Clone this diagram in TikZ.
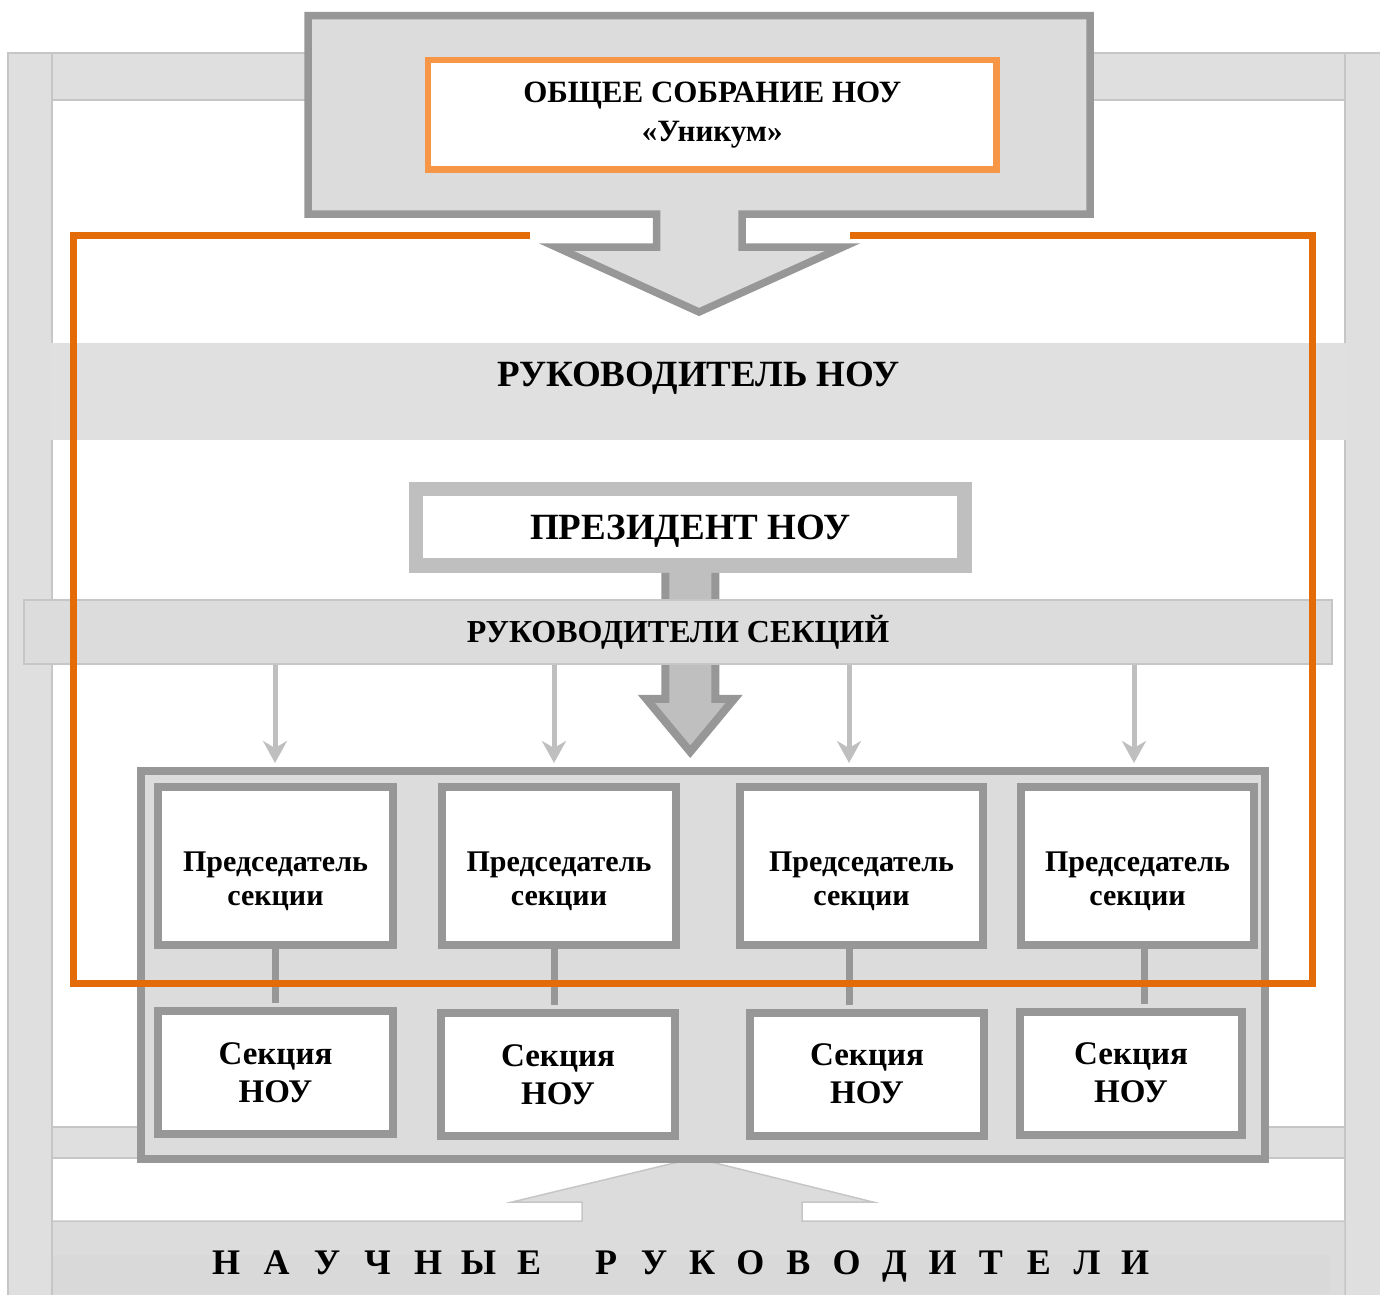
\documentclass[tikz,border=0pt]{standalone}
\usepackage{fontspec}
\setmainfont{Liberation Serif}
\usetikzlibrary{arrows.meta}

\definecolor{barfill}{HTML}{DFDFDF}
\definecolor{barline}{HTML}{C6C6C6}
\definecolor{bandfill}{HTML}{E0E0E0}
\definecolor{boxfill}{HTML}{DCDCDC}
\definecolor{boxline}{HTML}{979797}
\definecolor{softgray}{HTML}{BFBFBF}
\definecolor{orangelt}{HTML}{F79646}
\definecolor{orangedk}{HTML}{E36C09}
\definecolor{shadefill}{HTML}{D9D9D9}

\begin{document}
\begin{tikzpicture}[x=1pt,y=-1pt,
    framebar/.style={fill=barfill,draw=barline,line width=1.5pt},
    headtext/.style={font=\bfseries\fontsize{37}{44}\selectfont,text height=24.5pt,text depth=0pt},
    chairbox/.style={draw=boxline,line width=8pt,fill=white,minimum height=158pt},
    chairtext/.style={align=center,font=\bfseries\fontsize{30}{34}\selectfont},
    secbox/.style={draw=boxline,line width=8pt,fill=white,minimum height=123pt,align=center,font=\bfseries\fontsize{33}{38}\selectfont},
    link/.style={boxline,line width=7pt,shorten >=4pt},
    feed/.style={softgray,line width=5pt,-{Stealth[length=22pt,width=24pt,inset=7pt]},shorten >=4pt},
    capletter/.style={anchor=base,inner sep=0pt,font=\bfseries\fontsize{36}{40}\selectfont}]
    \useasboundingbox (0,0) rectangle (1380,1294);

    % frame
    \draw[framebar] (8,53) rectangle (52,1310);
    \draw[framebar] (1345,53) rectangle (1400,1310);
    \draw[framebar] (52,53) rectangle (1345,100);
    \draw[framebar] (52,1127) rectangle (1345,1158);
    \node[fill=bandfill,minimum width=1296pt,minimum height=97pt,headtext,text depth=34pt] (head) at (698.5,391.5) {РУКОВОДИТЕЛЬ НОУ};

    % scientific advisers
    \filldraw[fill=boxfill,draw=barline,line width=1.5pt] (52,1221) -- (582,1221) -- (582,1202) -- (512,1202) -- (695,1158) -- (873,1202) -- (802,1202) -- (802,1221) -- (1345,1221) -- (1345,1310) -- (52,1310) -- cycle;
    \fill[shadefill] (53,1255) rectangle (1330,1294);

    % general meeting
    \filldraw[fill=boxfill,draw=boxline,line width=7.5pt] (308,15.5) -- (1090,15.5) -- (1090,214) -- (742,214) -- (742,247) -- (843,247) -- (699,312) -- (556,247) -- (656.5,247) -- (656.5,214) -- (308,214) -- cycle;
    \node[draw=orangelt,line width=6.5pt,fill=white,minimum width=568.5pt,minimum height=109.5pt,align=center,font=\bfseries\fontsize{31}{39}\selectfont] (assembly) at (712.25,114.75) {ОБЩЕЕ СОБРАНИЕ НОУ\\«Уникум»};

    % president
    \node[draw=softgray,line width=14.5pt,fill=white,minimum width=548.5pt,minimum height=76.5pt,headtext] (pres) at (690.25,527.25) {ПРЕЗИДЕНТ НОУ};
    \filldraw[fill=softgray,draw=boxline,line width=8pt,shift={(pres.south)}] (-25,0) -- (-25,126) -- (-44,126) -- (0,179) -- (44,126) -- (25,126) -- (25,0);

    \node[fill=boxfill,draw=barline,line width=1.5pt,minimum width=1308pt,minimum height=64pt,font=\bfseries\fontsize{32}{38}\selectfont,text height=21pt,text depth=0pt] (lead) at (678,632) {РУКОВОДИТЕЛИ СЕКЦИЙ};

    % sections
    \node[draw=boxline,line width=8pt,fill=boxfill,minimum width=1124pt,minimum height=388pt] (frame) at (703,965) {};
    \foreach \n/\cx/\w in {1/275.5/235,2/559/234,3/861.5/243,4/1137.5/233} {
        \node[chairbox,minimum width=\w pt] (ch\n) at (\cx,866) {};
        \node[chairtext] (cht\n) at ([yshift=-15pt]ch\n.center) {Председатель\\секции};
    }
    \foreach \n/\cx/\cy/\w in {1/275.5/1072.5/235,2/558/1074.5/234,3/867/1074/234,4/1131/1073/222}
        \node[secbox,minimum width=\w pt] (sec\n) at (\cx,\cy) {Секция\\НОУ};
    \foreach \n/\lx in {1/275,2/554,3/849,4/1144}
        \draw[link] (\lx,0 |- ch\n.south) -- (\lx,0 |- sec\n.north);
    \foreach \ax in {275,554,849,1134}
        \draw[feed] (\ax,0 |- lead.south) -- (\ax,0 |- frame.north);

    \draw[orangedk,line width=7pt] (530,235) -- (73.5,235) -- (73.5,983) -- (1312,983) -- (1312,235) -- (850,235);

    \foreach \lt [count=\i from 0] in {Н,А,У,Ч,Н,Ы,Е}
        \node[capletter] (nl\i) at ({226+50.5*\i},1274) {\lt};
    \foreach \lt [count=\i from 0] in {Р,У,К,О,В,О,Д,И,Т,Е,Л,И}
        \node[capletter] (nr\i) at ({606+48.1*\i},1274) {\lt};
\end{tikzpicture}
\end{document}
